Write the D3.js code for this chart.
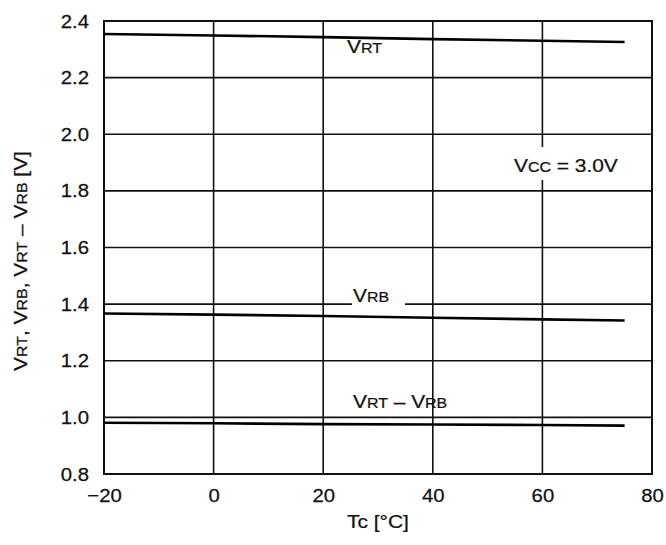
<!DOCTYPE html>
<html>
<head>
<meta charset="utf-8">
<script src="https://cdn.jsdelivr.net/npm/d3@7"></script>
<style>
  body { margin: 0; background: #fff; }
  svg { display: block; }
  text { font-family: "Liberation Sans", Arial, sans-serif; fill: #111; stroke: #111; stroke-width: 0.25; }
</style>
</head>
<body>
<div id="chart"></div>
<script>
// case temperature (°C)
const tc = [-20, 0, 20, 40, 60, 75];
// reference voltages (V)
const vrt = [2.354, 2.349, 2.343, 2.336, 2.330, 2.326];
const vrb = [1.367, 1.363, 1.358, 1.352, 1.346, 1.342];
const vdiff = [0.981, 0.979, 0.976, 0.975, 0.973, 0.971];

const xTicks = [-20, 0, 20, 40, 60, 80];
const yTicks = [0.8, 1.0, 1.2, 1.4, 1.6, 1.8, 2.0, 2.2, 2.4];

const width = 666, height = 545;
const margin = { left: 104, right: 14, top: 21, bottom: 71 };
const big = 19, small = 14.5;
const stretch = 1.1;

const svg = d3.select('#chart').append('svg')
    .attr('width', width)
    .attr('height', height);

const x = d3.scaleLinear().domain([-20, 80]).range([margin.left, width - margin.right]);
const y = d3.scaleLinear().domain([0.8, 2.4]).range([height - margin.bottom, margin.top]);

// grid
svg.append('g').selectAll('line.h')
    .data(yTicks)
    .enter().append('line')
    .attr('x1', x(-20)).attr('x2', x(80))
    .attr('y1', d => y(d)).attr('y2', d => y(d))
    .attr('stroke', '#111').attr('stroke-width', 1.6);

svg.append('g').selectAll('line.v')
    .data(xTicks)
    .enter().append('line')
    .attr('x1', d => x(d)).attr('x2', d => x(d))
    .attr('y1', y(0.8)).attr('y2', y(2.4))
    .attr('stroke', '#111').attr('stroke-width', 1.6);

// frame
svg.append('rect')
    .attr('x', x(-20)).attr('y', y(2.4))
    .attr('width', x(80) - x(-20)).attr('height', y(0.8) - y(2.4))
    .attr('fill', 'none').attr('stroke', '#111').attr('stroke-width', 2);

// axes (labels only)
const xAxis = d3.axisBottom(x).tickValues(xTicks).tickSize(0).tickPadding(15)
    .tickFormat(d => d < 0 ? '\u2212' + Math.abs(d) : d);
const gx = svg.append('g').attr('transform', `translate(0,${y(0.8)})`).call(xAxis);
gx.select('.domain').remove();
gx.selectAll('text').attr('font-size', 19).attr('font-family', '"Liberation Sans", Arial, sans-serif')
    .attr('transform', 'scale(1.07,1)');

const yAxis = d3.axisLeft(y).tickValues(yTicks).tickSize(0).tickPadding(14)
    .tickFormat(d3.format('.1f'));
const gy = svg.append('g').attr('transform', `translate(${x(-20)},0)`).call(yAxis);
gy.select('.domain').remove();
gy.selectAll('text').attr('font-size', 19).attr('font-family', '"Liberation Sans", Arial, sans-serif')
    .attr('transform', 'scale(1.07,1)');

// data lines
const series = [vrt, vrb, vdiff];
const line = d3.line().x((d, i) => x(tc[i])).y(d => y(d));
svg.append('g').selectAll('path')
    .data(series)
    .enter().append('path')
    .attr('d', d => line(d))
    .attr('fill', 'none')
    .attr('stroke', '#000')
    .attr('stroke-width', 2.6);

// helper for V with small-cap subscript, stretched a little like the scan
function vLabel(g, parts, px, py, rot) {
    const t = g.append('text')
        .attr('transform', `translate(${px},${py})` + (rot ? ` rotate(${rot})` : '') + ` scale(${stretch},1)`);
    parts.forEach(p => {
        t.append('tspan').attr('font-size', p[1]).text(p[0]);
    });
    return t;
}

// white patches where labels break the grid
svg.append('rect').attr('x', 352).attr('y', 296).attr('width', 53).attr('height', 12).attr('fill', '#fff');
svg.append('rect').attr('x', x(60) - 3).attr('y', 147).attr('width', 6).attr('height', 33).attr('fill', '#fff');

vLabel(svg, [['V', big], ['RT', small]], 347, 53);
vLabel(svg, [['V', big], ['CC', small], [' = 3.0V', big]], 514, 172);
vLabel(svg, [['V', big], ['RB', small]], 353, 302);
vLabel(svg, [['V', big], ['RT', small], [' \u2013 V', big], ['RB', small]], 353, 408);

// axis titles
vLabel(svg, [['Tc [°C]', big]], x(30), 528).attr('text-anchor', 'middle');

vLabel(svg, [['V', big], ['RT', small], [', V', big], ['RB', small], [', V', big], ['RT', small],
             [' \u2013 V', big], ['RB', small], [' [V]', big]], 27, 261, -90)
    .attr('text-anchor', 'middle');
</script>
</body>
</html>
